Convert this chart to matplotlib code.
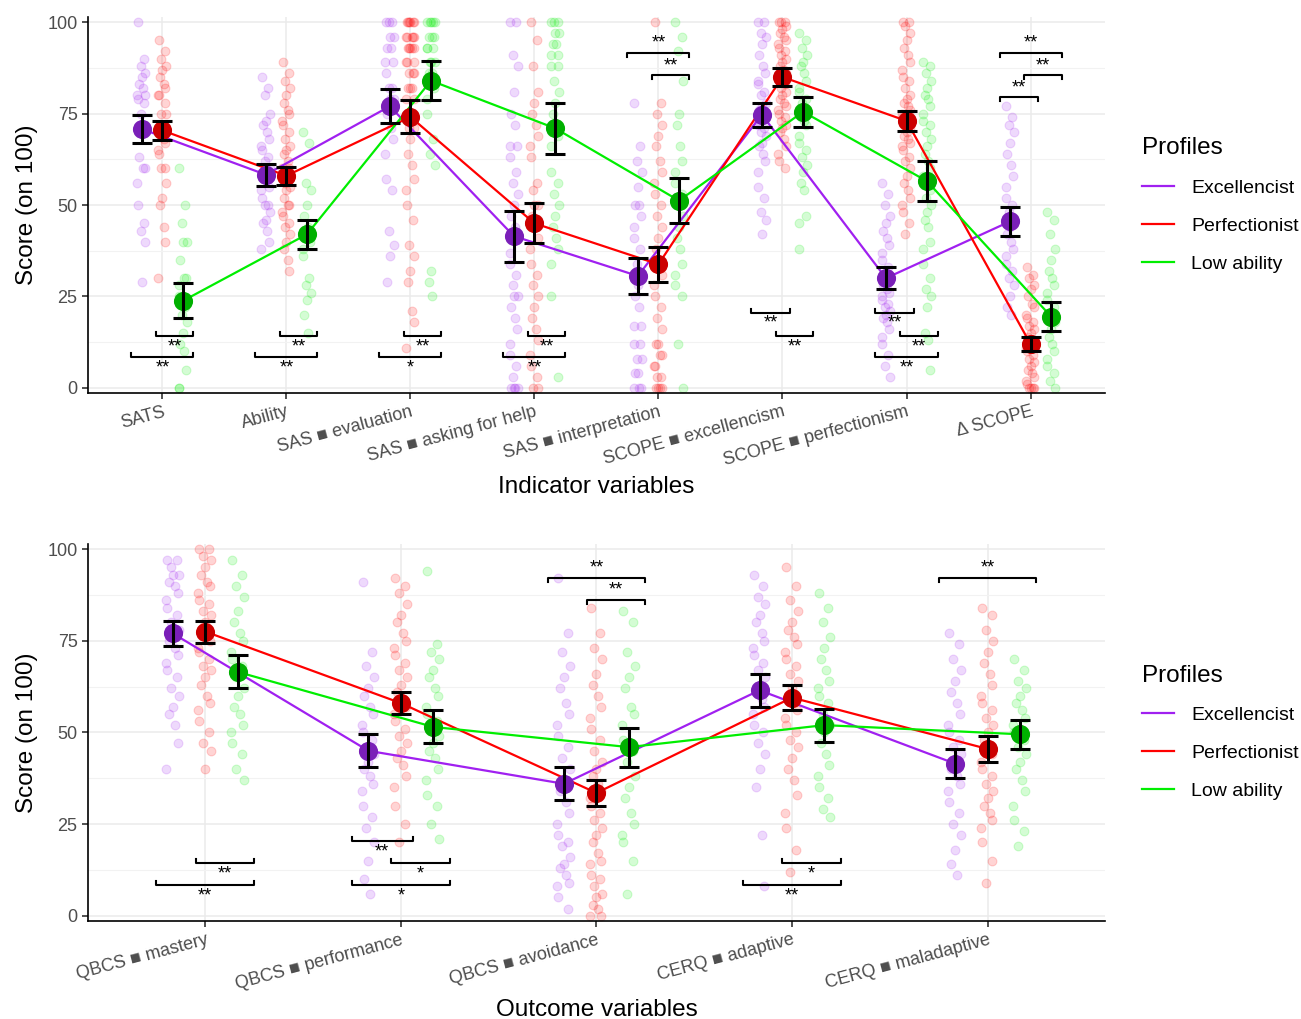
import matplotlib
matplotlib.use("Agg")
import matplotlib.pyplot as plt
from matplotlib.lines import Line2D

plt.rcParams['font.family'] = ['Liberation Sans', 'DejaVu Sans']

profiles = ['Excellencist', 'Perfectionist', 'Low ability']
line_cols = ['#A020F0', '#FF0000', '#00EE00']
mean_cols = ['#7A1FB8', '#CC0000', '#00B000']

# ---------------- top panel data ----------------
top_cats = ['SATS', 'Ability', 'SAS \u25a0 evaluation', 'SAS \u25a0 asking for help',
            'SAS \u25a0 interpretation', 'SCOPE \u25a0 excellencism',
            'SCOPE \u25a0 perfectionism', '\u0394 SCOPE']

top_mean_exc = [70.8, 58.3, 77, 41.5, 30.6, 74.7, 30, 45.5]
top_err_exc = [3.9, 3.0, 4.6, 7.0, 4.9, 3.3, 3.0, 4.0]
top_mean_per = [70.4, 58.0, 74.1, 45.0, 33.8, 85.0, 73.0, 12.0]
top_err_per = [2.6, 2.5, 4.5, 5.5, 4.8, 2.4, 2.8, 2.0]
top_mean_low = [23.8, 42.0, 84.0, 71.0, 51.2, 75.5, 56.5, 19.5]
top_err_low = [4.8, 3.9, 5.3, 7.0, 6.2, 4.1, 5.5, 4.0]

top_pts_exc = [
    [100, 90, 88, 86, 85, 83, 82, 80, 80, 79, 78, 75, 72, 70, 63, 60, 60, 56, 50, 45, 43, 40, 29],
    [85, 82, 80, 75, 73, 72, 70, 68, 66, 65, 63, 62, 60, 60, 58, 57, 55, 54, 52, 50, 50, 48, 46, 45, 43, 40, 38],
    [100, 100, 100, 96, 96, 93, 93, 89, 89, 86, 82, 82, 79, 79, 75, 71, 68, 64, 57, 54, 43, 39, 36, 29],
    [100, 100, 91, 88, 81, 75, 72, 66, 66, 63, 59, 56, 53, 50, 47, 44, 41, 37, 34, 31, 28, 25, 25, 22,
     19, 16, 12, 9, 6, 3, 0, 0, 0, 0],
    [78, 66, 62, 59, 55, 50, 50, 47, 44, 41, 38, 34, 31, 28, 25, 22, 17, 17, 12, 12, 8, 8, 4, 4, 0, 0, 0],
    [100, 100, 97, 96, 94, 91, 88, 86, 84, 83, 81, 80, 78, 77, 76, 75, 74, 73, 72, 71, 70, 69, 67, 66,
     64, 62, 59, 55, 52, 48, 46, 42],
    [56, 53, 50, 47, 45, 43, 41, 39, 37, 35, 33, 31, 30, 29, 28, 27, 26, 25, 24, 23, 22, 21, 20, 19,
     18, 16, 14, 12, 9, 6, 3],
    [77, 74, 72, 70, 67, 64, 61, 58, 55, 52, 50, 48, 46, 44, 42, 40, 38, 36, 34, 32, 30, 28, 25, 22, 20],
]
top_pts_per = [
    [95, 92, 90, 88, 87, 85, 83, 82, 80, 80, 78, 75, 75, 72, 70, 68, 67, 65, 64, 60, 60, 56, 52, 50, 44, 40, 30],
    [89, 86, 84, 82, 80, 78, 76, 75, 73, 72, 70, 68, 66, 65, 64, 62, 60, 60, 58, 57, 56, 55, 54, 52,
     50, 50, 48, 47, 45, 44, 42, 40, 38, 35, 32],
    [100, 100, 100, 100, 100, 100, 96, 96, 96, 96, 96, 93, 93, 93, 93, 93, 89, 89, 89, 86, 86, 86,
     82, 82, 82, 79, 79, 75, 75, 71, 71, 68, 64, 61, 57, 54, 50, 46, 39, 36, 32, 29, 21, 18, 11],
    [100, 95, 88, 81, 78, 75, 72, 69, 66, 63, 56, 54, 50, 50, 47, 44, 41, 38, 34, 31, 28, 25, 22, 19,
     16, 13, 9, 6, 3, 0, 0],
    [100, 78, 75, 72, 69, 66, 62, 59, 56, 53, 50, 47, 44, 41, 38, 34, 31, 28, 25, 22, 19, 16, 12, 12,
     9, 9, 6, 6, 3, 3, 0, 0, 0, 0],
    [100, 100, 100, 99, 98, 97, 96, 95, 94, 93, 92, 91, 90, 89, 88, 87, 86, 85, 84, 83, 82, 81, 80,
     79, 78, 77, 76, 75, 74, 73, 72, 71, 70, 68, 66, 64, 62, 60],
    [100, 100, 99, 97, 95, 93, 91, 89, 87, 85, 84, 82, 80, 79, 78, 77, 76, 75, 74, 73, 72, 71, 70,
     69, 68, 67, 66, 65, 63, 62, 60, 58, 56, 54, 52, 50, 48, 45, 42],
    [33, 31, 30, 28, 27, 25, 23, 22, 20, 19, 18, 17, 16, 15, 14, 13, 12, 11, 10, 9, 8, 7, 6, 5, 4, 3,
     2, 1, 0, 0, 0, 0],
]
top_pts_low = [
    [60, 50, 45, 40, 40, 35, 30, 30, 28, 25, 22, 20, 18, 15, 12, 10, 5, 0, 0],
    [70, 67, 56, 54, 50, 47, 44, 40, 38, 36, 30, 28, 26, 24, 20, 15],
    [100, 100, 100, 100, 100, 96, 96, 96, 93, 93, 93, 89, 89, 89, 86, 86, 82, 79, 75, 68, 64, 61, 32, 29, 25],
    [100, 100, 100, 97, 97, 94, 94, 91, 91, 88, 88, 84, 81, 78, 75, 72, 69, 66, 59, 56, 53, 50, 47,
     44, 41, 38, 34, 25, 3],
    [100, 96, 92, 84, 75, 72, 66, 62, 59, 56, 53, 50, 47, 44, 41, 38, 34, 31, 28, 25, 12, 0],
    [97, 95, 93, 91, 89, 88, 86, 84, 82, 81, 79, 78, 76, 75, 74, 73, 72, 69, 67, 65, 63, 61, 59, 56,
     54, 47, 45, 38],
    [89, 88, 86, 84, 82, 80, 79, 77, 75, 73, 72, 70, 68, 66, 64, 62, 60, 58, 56, 54, 52, 50, 48, 46,
     44, 40, 38, 34, 30, 27, 25, 22, 15, 13, 5],
    [48, 46, 42, 38, 35, 32, 30, 28, 26, 24, 22, 20, 18, 16, 14, 12, 10, 8, 6, 4, 2, 0],
]

# (category, group a, group b, y, label)
top_brackets = [
    (0, 1, 2, 14.2, '**'), (0, 0, 2, 8.5, '**'),
    (1, 1, 2, 14.2, '**'), (1, 0, 2, 8.5, '**'),
    (2, 1, 2, 14.2, '**'), (2, 0, 2, 8.5, '*'),
    (3, 1, 2, 14.2, '**'), (3, 0, 2, 8.5, '**'),
    (4, 0, 2, 91.6, '**'), (4, 1, 2, 85.5, '**'),
    (5, 0, 1, 20.6, '**'), (5, 1, 2, 14.2, '**'),
    (6, 0, 1, 20.6, '**'), (6, 1, 2, 14.2, '**'), (6, 0, 2, 8.5, '**'),
    (7, 0, 2, 91.6, '**'), (7, 1, 2, 85.5, '**'), (7, 0, 1, 79.5, '**'),
]

# ---------------- bottom panel data ----------------
bot_cats = ['QBCS \u25a0 mastery', 'QBCS \u25a0 performance', 'QBCS \u25a0 avoidance',
            'CERQ \u25a0 adaptive', 'CERQ \u25a0 maladaptive']

bot_mean_exc = [77, 45, 36, 61.5, 41.5]
bot_err_exc = [3.5, 4.5, 4.5, 4.5, 4.0]
bot_mean_per = [77.5, 58, 33.5, 59.5, 45.5]
bot_err_per = [3.0, 3.0, 3.5, 3.5, 3.5]
bot_mean_low = [66.5, 51.5, 46, 52, 49.5]
bot_err_low = [4.5, 4.5, 5.3, 4.5, 4.0]

bot_pts_exc = [
    [97, 97, 95, 93, 93, 91, 90, 88, 86, 84, 82, 80, 78, 76, 75, 73, 71, 69, 67, 65, 62, 60, 57, 55, 52, 47, 40],
    [91, 72, 68, 65, 62, 60, 57, 55, 52, 50, 48, 46, 44, 42, 40, 38, 36, 34, 30, 27, 24, 20, 15, 10, 6],
    [92, 77, 72, 68, 65, 62, 58, 55, 52, 49, 46, 43, 40, 37, 34, 31, 28, 25, 22, 20, 19, 16, 14, 13, 11, 9, 8, 5, 2],
    [93, 90, 87, 85, 82, 80, 77, 75, 73, 71, 69, 67, 65, 63, 61, 59, 57, 55, 52, 50, 47, 44, 40, 35, 22, 8],
    [77, 74, 70, 67, 64, 61, 58, 55, 52, 50, 48, 46, 44, 42, 40, 38, 36, 34, 31, 28, 25, 22, 18, 14, 11],
]
bot_pts_per = [
    [100, 100, 98, 97, 95, 93, 91, 90, 88, 86, 85, 83, 82, 80, 78, 77, 75, 73, 72, 70, 68, 67, 65, 63,
     60, 58, 56, 53, 50, 47, 45, 40],
    [92, 90, 88, 85, 82, 80, 77, 75, 73, 71, 69, 67, 65, 63, 61, 59, 57, 55, 53, 51, 49, 47, 45, 43,
     41, 38, 35, 30, 25, 20],
    [84, 77, 73, 70, 66, 63, 60, 57, 54, 51, 48, 45, 42, 40, 38, 36, 34, 32, 30, 28, 26, 24, 22, 20,
     17, 15, 14, 11, 10, 8, 6, 5, 3, 2, 0, 0],
    [95, 90, 86, 83, 80, 78, 76, 74, 72, 70, 68, 66, 64, 62, 60, 58, 56, 54, 52, 50, 48, 46, 43, 40,
     37, 33, 28, 24, 18, 12],
    [84, 82, 78, 75, 72, 69, 66, 63, 60, 58, 56, 54, 52, 50, 48, 46, 44, 42, 40, 38, 36, 34, 32, 30,
     28, 26, 24, 20, 15, 9],
]
bot_pts_low = [
    [97, 93, 90, 87, 83, 80, 77, 75, 72, 70, 68, 65, 62, 60, 57, 55, 52, 50, 47, 44, 40, 37],
    [94, 74, 72, 70, 67, 65, 62, 60, 57, 55, 53, 51, 49, 47, 45, 43, 40, 37, 33, 30, 25, 21],
    [83, 80, 72, 68, 65, 62, 57, 55, 52, 48, 45, 42, 38, 35, 32, 28, 25, 22, 20, 15, 6],
    [88, 84, 80, 76, 73, 70, 67, 64, 62, 60, 58, 55, 52, 50, 47, 44, 41, 38, 35, 32, 29, 27],
    [70, 67, 64, 62, 60, 58, 56, 54, 52, 50, 48, 46, 44, 42, 40, 37, 34, 30, 26, 23, 19],
]

bot_brackets = [
    (0, 1, 2, 14.4, '**'), (0, 0, 2, 8.4, '**'),
    (1, 0, 1, 20.4, '**'), (1, 1, 2, 14.4, '*'), (1, 0, 2, 8.4, '*'),
    (2, 0, 2, 92.1, '**'), (2, 1, 2, 86.1, '**'),
    (3, 1, 2, 14.4, '*'), (3, 0, 2, 8.4, '**'),
    (4, 0, 2, 92.1, '**'),
]

dodge = [-0.166, 0.0, 0.166]
jit = [-0.03, 0.02, -0.01, 0.03, 0.0, -0.02, 0.01, 0.025, -0.035]
left_end = {0: -0.25, 1: -0.05}
right_end = {1: 0.06, 2: 0.25}


def draw_panel(ax, cats, means, errs, pts, brackets, xlabel):
    n = len(cats)
    for g in range(3):
        xs = [i + 1 + dodge[g] for i in range(n)]
        for i in range(n):
            vals = pts[g][i]
            px = [i + 1 + dodge[g] + jit[k % len(jit)] for k in range(len(vals))]
            ax.scatter(px, vals, s=40, color=line_cols[g], alpha=0.17,
                       edgecolors=line_cols[g], linewidths=0.8, zorder=2)
        ax.plot(xs, means[g], color=line_cols[g], lw=1.6, zorder=3)
        ax.scatter(xs, means[g], s=190, color=mean_cols[g], zorder=4, linewidths=0)
        ax.errorbar(xs, means[g], yerr=errs[g], fmt='none', ecolor='black',
                    elinewidth=2.2, capsize=7, capthick=2.2, zorder=5)

    tip = 1.1
    for c, a, b, y, lab in brackets:
        x0 = c + 1 + left_end[a]
        x1 = c + 1 + right_end[b]
        xm = (x0 + x1) / 2
        if y < 50:
            ax.plot([x0, x0, x1, x1], [y + tip, y, y, y + tip], color='black', lw=1.5, zorder=6)
            ax.text(xm, y - 0.6, lab, ha='center', va='top', fontsize=13, zorder=6)
        else:
            ax.plot([x0, x0, x1, x1], [y - tip, y, y, y - tip], color='black', lw=1.5, zorder=6)
            ax.text(xm, y + 0.3, lab, ha='center', va='bottom', fontsize=13, zorder=6)

    ax.set_xlim(0.4, n + 0.6)
    ax.set_ylim(-1.4, 101.4)
    ax.set_yticks([0, 25, 50, 75, 100])
    ax.set_yticks([12.5, 37.5, 62.5, 87.5], minor=True)
    ax.set_xticks(range(1, n + 1))
    ax.set_xticklabels(cats, rotation=15, ha='right', rotation_mode='anchor')
    ax.grid(True, which='major', color='#EBEBEB', lw=1.1, zorder=0)
    ax.grid(True, which='minor', axis='y', color='#F2F2F2', lw=0.8, zorder=0)
    ax.set_axisbelow(True)
    for s in ['top', 'right']:
        ax.spines[s].set_visible(False)
    for s in ['left', 'bottom']:
        ax.spines[s].set_linewidth(1.2)
    ax.tick_params(axis='both', which='major', labelsize=13, colors='#333333',
                   labelcolor='#4D4D4D', length=4, width=1.2)
    ax.tick_params(axis='y', which='minor', length=0)
    ax.set_ylabel('Score (on 100)', fontsize=17.5, labelpad=7)
    ax.set_xlabel(xlabel, fontsize=17.5, labelpad=5)

    handles = [Line2D([0], [0], color=line_cols[g], lw=1.6) for g in range(3)]
    leg = ax.legend(handles, profiles, title='Profiles', loc='center left',
                    bbox_to_anchor=(1.019, 0.5), frameon=False, fontsize=14,
                    title_fontsize=17.5, handlelength=1.65, labelspacing=1.05,
                    handletextpad=0.9)
    leg._legend_box.align = 'left'
    leg._legend_box.sep = 14


fig = plt.figure(figsize=(13.01, 10.19), dpi=100)
ax1 = fig.add_axes([0.0676, 0.6143, 0.7817, 0.369])
ax2 = fig.add_axes([0.0676, 0.0962, 0.7817, 0.370])

draw_panel(ax1, top_cats,
           [top_mean_exc, top_mean_per, top_mean_low],
           [top_err_exc, top_err_per, top_err_low],
           [top_pts_exc, top_pts_per, top_pts_low],
           top_brackets, 'Indicator variables')
draw_panel(ax2, bot_cats,
           [bot_mean_exc, bot_mean_per, bot_mean_low],
           [bot_err_exc, bot_err_per, bot_err_low],
           [bot_pts_exc, bot_pts_per, bot_pts_low],
           bot_brackets, 'Outcome variables')

fig.savefig('out.png', dpi=100)
